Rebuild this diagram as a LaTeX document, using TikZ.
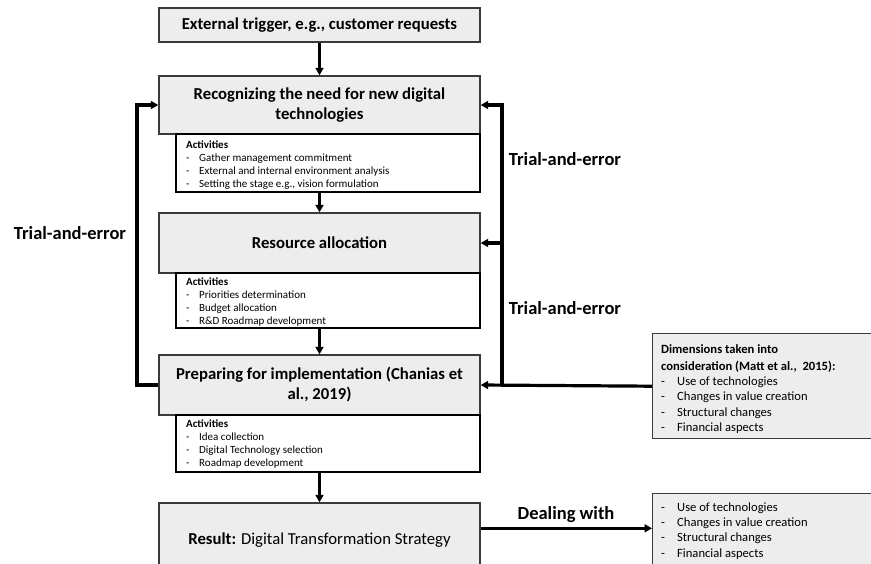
\documentclass[tikz,border=0pt]{standalone}
\usepackage{fontspec}
\setmainfont{Carlito}
\usetikzlibrary{arrows.meta,calc}
\definecolor{boxgray}{HTML}{EDEDED}
\definecolor{edgegray}{HTML}{3A3A3A}
\tikzset{
  stagebox/.style={draw=edgegray, line width=1.4pt, fill=boxgray, minimum width=321pt, inner sep=2pt, align=center, font=\fontsize{16.7}{20}\selectfont\bfseries},
  actbox/.style={draw=black, line width=1.1pt, fill=white, minimum width=304pt, inner sep=0pt},
  acttext/.style={anchor=north west, inner sep=0pt, align=left, font=\fontsize{11}{13}\selectfont},
  listbox/.style={draw=edgegray, line width=1.4pt, fill=boxgray, minimum width=230pt, anchor=north west, inner sep=0pt},
  listtext/.style={anchor=north west, inner sep=0pt, align=left, font=\fontsize{12.6}{15.2}\selectfont},
  conn/.style={line width=3.2pt, -{Triangle[length=7.5pt,width=8pt]}},
  tlabel/.style={font=\fontsize{18.5}{22}\selectfont\bfseries, inner sep=0pt}
}
\newcommand{\itm}[1]{\makebox[13pt][l]{-}#1}
\newcommand{\ditm}[1]{\makebox[16pt][l]{-}#1}
\begin{document}
\begin{tikzpicture}[x=1pt,y=-1pt]
\useasboundingbox (0,0) rectangle (871,563);
\clip (0,0) rectangle (871,563);

% stage boxes
\node[stagebox, minimum height=34pt] (trig) at (319.5,25) {External trigger, e.g., customer requests};
\node[stagebox, minimum height=58pt] (rec) at (319.5,105) {Recognizing the need for new digital\\technologies};
\node[stagebox, minimum height=60pt] (res) at (319.5,243) {Resource allocation};
\node[stagebox, minimum height=60pt] (prep) at (319.5,385) {Preparing for implementation (Chanias et\\al., 2019)};
\node[stagebox, minimum height=74pt, font=\fontsize{16.7}{20}\selectfont] (result) at (319.5,540) {\textbf{Result:} Digital Transformation Strategy};

% activity boxes
\node[actbox, minimum height=58pt] (act1) at (328,163) {};
\node[acttext] (act1t) at (186,140.5) {\textbf{Activities}\\\itm{Gather management commitment}\\\itm{External and internal environment analysis}\\\itm{Setting the stage e.g., vision formulation}};
\node[actbox, minimum height=55pt] (act2) at (328,300.5) {};
\node[acttext] (act2t) at (186,277.5) {\textbf{Activities}\\\itm{Priorities determination}\\\itm{Budget allocation}\\\itm{R\&D Roadmap development}};
\node[actbox, minimum height=57pt] (act3) at (328,443.5) {};
\node[acttext] (act3t) at (186,419.5) {\textbf{Activities}\\\itm{Idea collection}\\\itm{Digital Technology selection}\\\itm{Roadmap development}};

% right boxes
\node[listbox, minimum height=105pt] (dim) at (652,333) {};
\node[listtext] (dimt) at (661,344.5) {\textbf{Dimensions taken into}\\[1.8pt]\textbf{consideration (Matt et al.,~ 2015):}\\\ditm{Use of technologies}\\\ditm{Changes in value creation}\\\ditm{Structural changes}\\\ditm{Financial aspects}};
\node[listbox, minimum height=82pt] (rbox) at (652,493) {};
\node[listtext] (rboxt) at (661,502.5) {\ditm{Use of technologies}\\\ditm{Changes in value creation}\\\ditm{Structural changes}\\\ditm{Financial aspects}};

% coordinates
\coordinate (lx) at (137,0);
\coordinate (rx) at (502,0);
\coordinate (dl) at ([yshift=-26pt]result.north east);

% vertical flow
\draw[conn] (trig.south) -- (rec.north);
\draw[conn] (res.north |- act1.south) -- (res.north);
\draw[conn] (prep.north |- act2.south) -- (prep.north);
\draw[conn] (result.north |- act3.south) -- (result.north);

% left feedback
\draw[conn] (prep.west) -- (prep.west -| lx) -- (rec.west -| lx) -- (rec.west);

% right feedback
\draw[conn] (dim.west) -- (prep.east);
\draw[conn] (rx |- prep.east) -- (rx |- rec.east) -- (rec.east);
\draw[conn] (rx |- res.east) -- (res.east);

% dealing with
\draw[conn] (dl) -- (dl -| rbox.west);

% labels
\node[tlabel] (tl1) at (70,233) {Trial-and-error};
\node[tlabel] (tr1) at (565,159) {Trial-and-error};
\node[tlabel] (tr2) at (565,308) {Trial-and-error};
\node[tlabel] (dw) at (566,515) {Dealing with};
\end{tikzpicture}
\end{document}
